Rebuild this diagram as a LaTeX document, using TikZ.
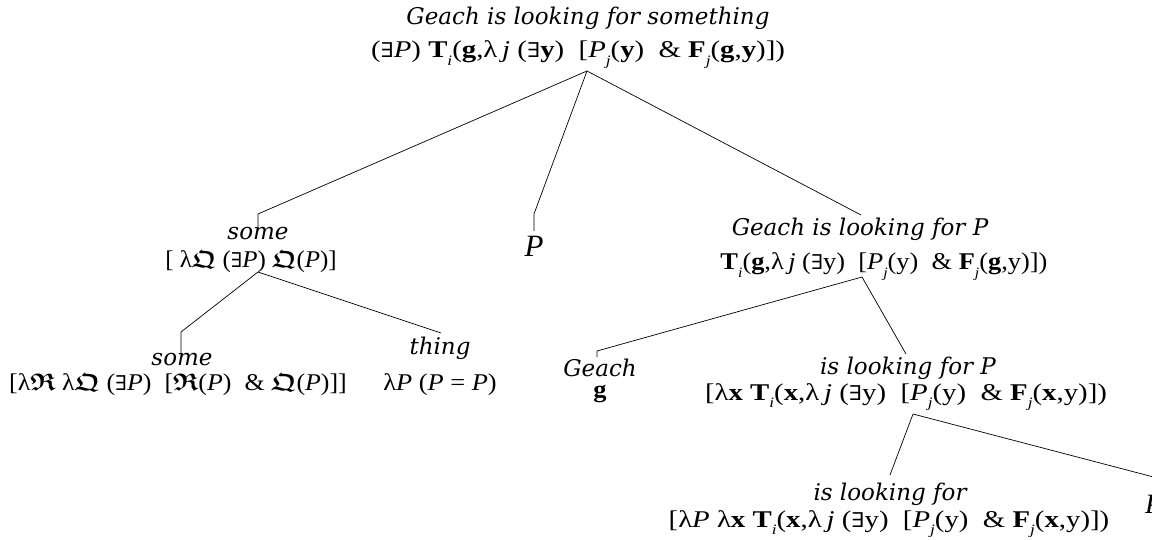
\documentclass[tikz,border=0pt]{standalone}
\usepackage{amsmath,amssymb}
\usepackage{graphicx}
\usepackage{fontspec}
\setmainfont{Liberation Serif}
\newfontfamily\labfont{DejaVu Serif}
\newfontfamily\symfont{DejaVu Serif}
\newcommand\Ex{{\symfont\scalebox{0.85}{∃}}}
\newcommand\sbx[1]{\raisebox{-0.3em}{\scalebox{0.6}{\itshape #1}}}
\newcommand\frQ{$\boldsymbol{\mathfrak{Q}}$}
\newcommand\frR{$\boldsymbol{\mathfrak{R}}$}
\newcommand\bT{\textbf{T}}
\newcommand\bF{\textbf{F}}
\newcommand\fx[2]{\scalebox{#1}[1]{#2}}
\tikzset{
  lab/.style={font=\labfont\itshape\fontsize{23}{26}\selectfont, anchor=base, inner sep=0pt},
  frm/.style={font=\fontsize{24}{26}\selectfont, anchor=base, inner sep=0pt},
  edge/.style={line width=0.7pt, black},
}
\begin{document}
\begin{tikzpicture}[x=1pt,y=-1pt]
\clip (0,0) rectangle (1152,540);
% root
\node[lab] (rootA) at (588,25) {Geach is looking for something};
\node[frm] (rootB) at (578,58) {\fx{1.2}{(\Ex\textit{P}) \bT\sbx{i}(\textbf{g},λ\,\textit{j} (\Ex\textbf{y}) \ [\textit{P}\sbx{j}(\textbf{y}) \ \& \bF\sbx{j}(\textbf{g},\textbf{y})])}};
\coordinate (rootF) at (587,71);
% level 2 left
\node[lab] (someA) at (258,240) {some};
\node[frm] (someB) at (251,268) {\fx{1.04}{[ λ\frQ\ (\Ex\textit{P}) \frQ(\textit{P})]}};
\coordinate (someT) at (258,214);
\coordinate (someE) at (258,230);
\coordinate (someF) at (258,272);
% middle P
\node[font=\itshape\fontsize{31}{32}\selectfont, anchor=base, inner sep=0pt] (midP) at (534,257) {P};
\coordinate (midT) at (534,214);
\coordinate (midE) at (534,231);
% level 2 right
\node[lab] (gpA) at (860,236) {Geach is looking for P};
\node[frm] (gpB) at (884,270) {\fx{1.1}{\bT\sbx{i}(\textbf{g},λ\,\textit{j} (\Ex y) \ [\textit{P}\sbx{j}(y) \ \& \bF\sbx{j}(\textbf{g},y)])}};
\coordinate (gpT) at (861,215);
\coordinate (gpF) at (862,277);
% level 3 under some
\node[lab] (some2A) at (182,365) {some};
\node[frm] (some2B) at (178,390) {\fx{1.08}{[λ\frR\ λ\frQ\ (\Ex\textit{P}) \ [\frR(\textit{P}) \ \& \frQ(\textit{P})]]}};
\coordinate (some2T) at (181,332);
\coordinate (some2E) at (181,353);
\node[lab] (thingA) at (440,354) {thing};
\node[frm] (thingB) at (440,390) {\fx{1.1}{λ\textit{P} (\textit{P} = \textit{P})}};
\coordinate (thingT) at (441,333);
% level 3 under Geach is looking for P
\node[lab] (geachA) at (600,376) {Geach};
\node[frm] (geachB) at (600,397) {\fx{1.1}{\textbf{g}}};
\coordinate (geachT) at (597,351);
\coordinate (geachE) at (597,357);
\node[lab] (ilfpA) at (908,374) {is looking for P};
\node[frm] (ilfpB) at (906,400) {\fx{1.2}{[λ\textbf{x} \bT\sbx{i}(\textbf{x},λ\,\textit{j} (\Ex y) \ [\textit{P}\sbx{j}(y) \ \& \bF\sbx{j}(\textbf{x},y)])}};
\coordinate (ilfpT) at (906,354);
\coordinate (ilfpF) at (913,414);
% level 4
\node[lab] (ilfA) at (890,500) {is looking for};
\node[frm] (ilfB) at (889,527) {\fx{1.2}{[λ\textit{P} λ\textbf{x} \bT\sbx{i}(\textbf{x},λ\,\textit{j} (\Ex y) \ [\textit{P}\sbx{j}(y) \ \& \bF\sbx{j}(\textbf{x},y)])}};
\coordinate (ilfT) at (890,475);
\node[font=\itshape\fontsize{28}{28}\selectfont, anchor=base west, inner sep=0pt] (lastP) at (1145,513) {P};
\coordinate (lastT) at (1165,480);
% edges
\draw[edge] (rootF) -- (someT) -- (someE);
\draw[edge] (rootF) -- (midT) -- (midE);
\draw[edge] (rootF) -- (gpT);
\draw[edge] (someF) -- (some2T) -- (some2E);
\draw[edge] (someF) -- (thingT);
\draw[edge] (gpF) -- (geachT) -- (geachE);
\draw[edge] (gpF) -- (ilfpT);
\draw[edge] (ilfpF) -- (ilfT);
\draw[edge] (ilfpF) -- (lastT);
\end{tikzpicture}
\end{document}
